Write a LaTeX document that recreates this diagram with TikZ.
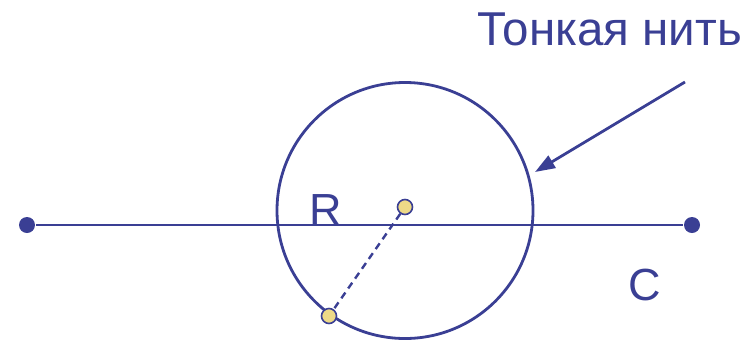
\documentclass[tikz,border=0pt]{standalone}
\usepackage{fontspec}
\setmainfont{Liberation Sans}
\usepackage{xcolor}
\definecolor{threadBlue}{HTML}{3A3F94}
\definecolor{beadYellow}{HTML}{EDD987}
\usetikzlibrary{arrows.meta}

\begin{document}
\begin{tikzpicture}[x=1pt, y=-1pt, line width=2.8pt, threadBlue,
    bead/.style={circle, draw=threadBlue, line width=1.6pt, fill=beadYellow, minimum size=15pt, inner sep=0pt},
    endpt/.style={circle, fill=threadBlue, minimum size=16pt, inner sep=0pt},
    lbl/.style={anchor=base west, inner sep=0pt, text=threadBlue}]
  \useasboundingbox (0,0) rectangle (751,341);
  % axis with the two end points
  \node[endpt] (left) at (27,225) {};
  \node[endpt] (right) at (692,225) {};
  \draw (left) -- (right);
  % thread ring
  \draw (405,210.5) circle (128);
  % beads and radius
  \node[bead] (mid) at (405,207) {};
  \node[bead] (rim) at (329,316) {};
  \draw[line width=2.4pt, dash pattern=on 7pt off 5pt] (mid) -- (rim);
  % labels
  \node[lbl, font=\fontsize{45}{45}\selectfont] (rlbl) at (308,225) {R};
  \node[lbl, font=\fontsize{45}{45}\selectfont] (clbl) at (627,300.5) {C};
  \node[lbl, font=\fontsize{47.5}{47.5}\selectfont] (title) at (476,45) {Тонкая нить};
  % pointer to the ring
  \coordinate (tail) at (685,82);
  \coordinate (tip) at (535,172);
  \draw[-{Triangle[length=20pt, width=14pt]}] (tail) -- (tip);
\end{tikzpicture}
\end{document}
